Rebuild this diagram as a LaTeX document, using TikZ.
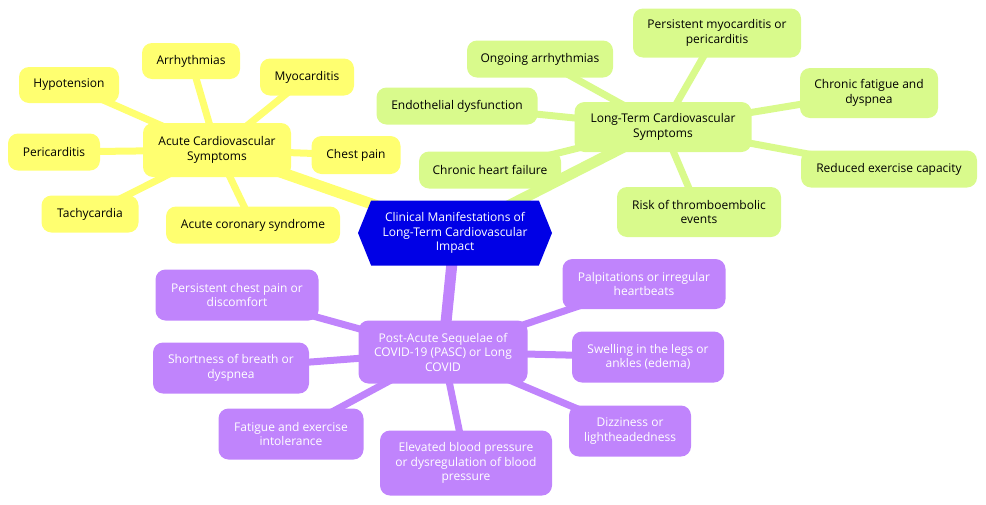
\documentclass[tikz,border=0pt]{standalone}
\usepackage{fontspec}
\setmainfont{Open Sans}
\usetikzlibrary{shapes.symbols}

\pgfdeclarelayer{bg}
\pgfsetlayers{bg,main}

\definecolor{acuteyellow}{HTML}{FFFF70}
\definecolor{longgreen}{HTML}{D9FA8C}
\definecolor{pascpurple}{HTML}{C084FC}
\definecolor{rootblue}{HTML}{0000E6}

\tikzset{
  box/.style={rectangle, rounded corners=10pt, align=center, inner sep=2pt,
    font=\fontsize{12}{14.5}\selectfont},
  dims/.style 2 args={minimum width=#1, minimum height=#2},
  acute/.style={box, fill=acuteyellow, text=black},
  longterm/.style={box, fill=longgreen, text=black},
  pasc/.style={box, fill=pascpurple, text=white},
  trunk/.style={line width=11pt},
  twig/.style={line width=7pt},
}

\begin{document}
\begin{tikzpicture}[x=1pt, y=-1pt]
    \useasboundingbox (0,0) rectangle (986,504);

    % Root
    \node (root) [signal, signal to=west and east, signal pointer angle=136,
        fill=rootblue, text=white, align=center, inner sep=0pt,
        minimum width=194pt, minimum height=65pt,
        font=\fontsize{12}{14.5}\selectfont] at (455,233)
        {Clinical Manifestations of\\Long-Term Cardiovascular\\Impact};

    % Acute symptoms
    \node (acute) [acute, dims={148pt}{54pt}] at (217,150) {Acute Cardiovascular\\Symptoms};
    \node (hypo) [acute, dims={100pt}{36pt}] at (69,85) {Hypotension};
    \node (arrh) [acute, dims={98pt}{36pt}] at (191,61) {Arrhythmias};
    \node (myo) [acute, dims={94pt}{37pt}] at (307,77) {Myocarditis};
    \node (peri) [acute, dims={92pt}{37pt}] at (54,152) {Pericarditis};
    \node (chest) [acute, dims={89pt}{38pt}] at (356,155) {Chest pain};
    \node (tachy) [acute, dims={97pt}{37pt}] at (90,214) {Tachycardia};
    \node (acs) [acute, dims={174pt}{37pt}] at (253,225) {Acute coronary syndrome};

    % Long-term symptoms
    \node (long) [longterm, dims={177pt}{50pt}] at (663,127) {Long-Term Cardiovascular\\Symptoms};
    \node (pmyo) [longterm, dims={168pt}{49pt}] at (717,33) {Persistent myocarditis or\\pericarditis};
    \node (oarrh) [longterm, dims={146pt}{37pt}] at (540,59) {Ongoing arrhythmias};
    \node (endo) [longterm, dims={161pt}{37pt}] at (457,106) {Endothelial dysfunction};
    \node (fatig) [longterm, dims={138pt}{50pt}] at (869,93) {Chronic fatigue and\\dyspnea};
    \node (hf) [longterm, dims={142pt}{37pt}] at (490,170) {Chronic heart failure};
    \node (rex) [longterm, dims={176pt}{37pt}] at (889,169) {Reduced exercise capacity};
    \node (thromb) [longterm, dims={164pt}{50pt}] at (699,212) {Risk of thromboembolic\\events};

    % PASC
    \node (pasc) [pasc, dims={169pt}{63pt}] at (443,352) {Post-Acute Sequelae of\\COVID-19 (PASC) or Long\\COVID};
    \node (pchest) [pasc, dims={163pt}{51pt}] at (237,295) {Persistent chest pain or\\discomfort};
    \node (palp) [pasc, dims={163pt}{50pt}] at (644,284) {Palpitations or irregular\\heartbeats};
    \node (sob) [pasc, dims={156pt}{51pt}] at (231,368) {Shortness of breath or\\dyspnea};
    \node (swell) [pasc, dims={152pt}{51pt}] at (648,357) {Swelling in the legs or\\ankles (edema)};
    \node (fei) [pasc, dims={145pt}{51pt}] at (291,434) {Fatigue and exercise\\intolerance};
    \node (dizzy) [pasc, dims={122pt}{51pt}] at (630,431) {Dizziness or\\lightheadedness};
    \node (bp) [pasc, dims={172pt}{65pt}] at (466,463) {Elevated blood pressure\\or dysregulation of blood\\pressure};

    % Links
    \begin{pgfonlayer}{bg}
        \draw[trunk, acuteyellow] (root.center) -- (acute.center);
        \draw[trunk, longgreen] (root.center) -- (long.center);
        \draw[trunk, pascpurple] (root.center) -- (pasc.center);
        \foreach \leaf in {hypo, arrh, myo, peri, chest, tachy, acs}
            \draw[twig, acuteyellow] (acute.center) -- (\leaf.center);
        \foreach \leaf in {pmyo, oarrh, endo, fatig, hf, rex, thromb}
            \draw[twig, longgreen] (long.center) -- (\leaf.center);
        \foreach \leaf in {pchest, palp, sob, swell, fei, dizzy, bp}
            \draw[twig, pascpurple] (pasc.center) -- (\leaf.center);
    \end{pgfonlayer}
\end{tikzpicture}
\end{document}
